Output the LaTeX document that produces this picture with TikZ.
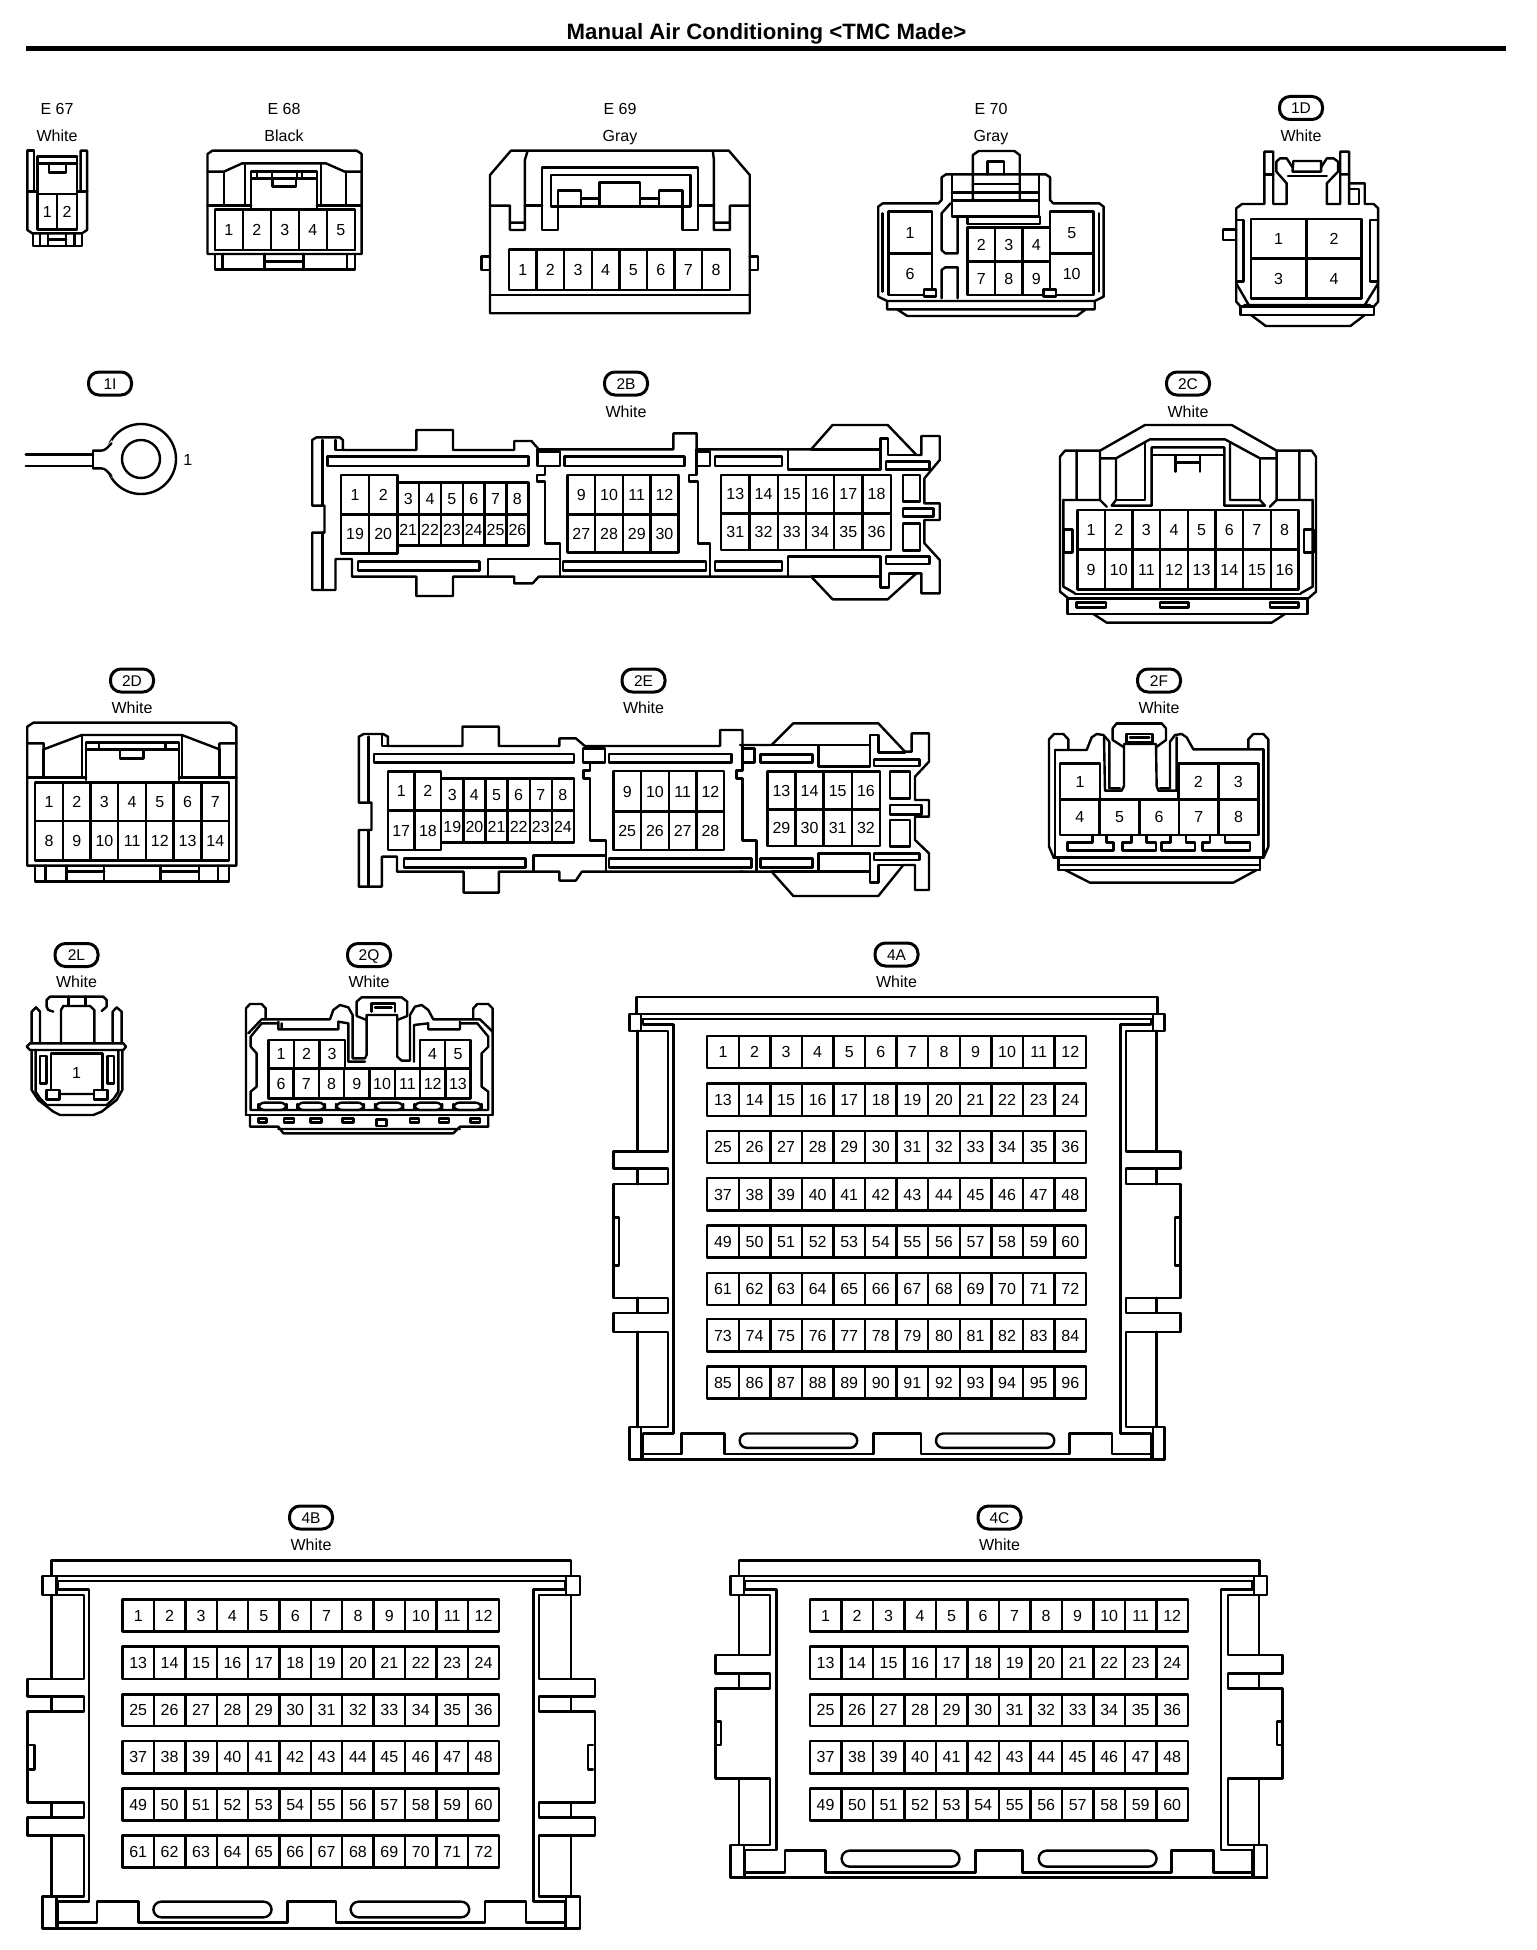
\documentclass[tikz,border=0pt]{standalone}
\usepackage{fontspec}
\setmainfont{Liberation Sans}
\tikzset{
  ln/.style={line width=2.4pt,line join=round,line cap=round,black},
  pin/.style={font=\fontsize{16}{17}\selectfont,inner sep=0pt,text height=11.5pt,text depth=0pt},
  lbl/.style={font=\fontsize{16}{17}\selectfont,inner sep=0pt,text height=11.5pt,text depth=0pt},
  pill/.style={draw,line width=3pt,rounded corners=10.5pt,minimum width=43pt,minimum height=23pt,inner sep=0pt,font=\fontsize{15.5}{16}\selectfont,text height=11pt,text depth=0pt},
  zm/.style n args={4}{shift={(#1,#2)},x=#3pt,y=-#4pt},
  slot/.style={ln,rounded corners=6pt},
}
\newcommand{\pincell}[6]{%
  \draw[ln] (#2,#3) rectangle (#4,#5);
  \path (#2,#3) -- node[pin] (#1) {#6} (#4,#5);
}
\newcommand{\pinrow}[7]{%
  \pgfmathsetmacro\mypw{(#4-#2)/(#7-#6+1)}
  \foreach \k in {#6,...,#7}{
    \pgfmathsetmacro\myxa{#2+(\k-#6)*\mypw}
    \pgfmathsetmacro\myxb{\myxa+\mypw}
    \draw[ln] (\myxa,#3) rectangle (\myxb,#5);
    \path (\myxa,#3) -- node[pin] (#1-\k) {\k} (\myxb,#5);
  }
}
\newcommand{\colorlabel}[4]{\node[lbl] (#1) at (#2,#3) {#4};}
\begin{document}
\begin{tikzpicture}[x=1pt,y=-1pt]
\useasboundingbox (0,0) rectangle (1536,1950);
\fill[white] (0,0) rectangle (1536,1950);
% Title
\node[font=\bfseries\fontsize{22.2}{24}\selectfont,inner sep=0pt] (title) at (766.5,33.5) {Manual Air Conditioning <TMC Made>};
\draw[line width=5pt] (26,48.5) -- (1506,48.5);
% Labels
\colorlabel{le67}{57}{109}{E 67}\colorlabel{we67}{57}{136}{White}
\colorlabel{le68}{284}{109}{E 68}\colorlabel{we68}{284}{136}{Black}
\colorlabel{le69}{620}{109}{E 69}\colorlabel{we69}{620}{136}{Gray}
\colorlabel{le70}{991}{109}{E 70}\colorlabel{we70}{991}{136}{Gray}
\node[pill] (p1D) at (1301,108) {1D};\colorlabel{w1D}{1301}{136}{White}
\node[pill] (p1I) at (110,383.5) {1I};
\node[pill] (p2B) at (626,383.5) {2B};\colorlabel{w2B}{626}{411.5}{White}
\node[pill] (p2C) at (1188,383.5) {2C};\colorlabel{w2C}{1188}{411.5}{White}
\node[pill] (p2D) at (132,680.5) {2D};\colorlabel{w2D}{132}{708}{White}
\node[pill] (p2E) at (643.5,680.5) {2E};\colorlabel{w2E}{643.5}{708}{White}
\node[pill] (p2F) at (1159,680.5) {2F};\colorlabel{w2F}{1159}{708}{White}
\node[pill] (p2L) at (76.5,955) {2L};\colorlabel{w2L}{76.5}{982}{White}
\node[pill] (p2Q) at (369,955) {2Q};\colorlabel{w2Q}{369}{982}{White}
\node[pill] (p4A) at (896.5,954.5) {4A};\colorlabel{w4A}{896.5}{982}{White}
\node[pill] (p4B) at (311,1517.5) {4B};\colorlabel{w4B}{311}{1545}{White}
\node[pill] (p4C) at (999.5,1517.5) {4C};\colorlabel{w4C}{999.5}{1545}{White}
% ---------- E67, E68, E69
\begin{scope}[zm={0}{0}{.4975}{.3333}]
 % E67
 \draw[ln] (55,452)--(55,690)--(65,700)--(165,700)--(175,690)--(175,452)--(162,452)--(162,575);
 \draw[ln] (55,452)--(68,452)--(68,575);
 \draw[ln] (75,470)--(155,470) (75,490)--(155,490) (75,470)--(75,580) (155,470)--(155,580);
 \draw[ln] (98,490)--(98,518)--(133,518)--(133,490);
 \draw[ln] (55,575)--(75,575) (155,575)--(175,575);
 \pinrow{e67}{75}{582}{155}{688}{1}{2}
 \draw[ln] (66,700)--(66,738)--(165,738)--(165,700);
 \draw[ln] (80,700)--(80,738) (97,700)--(97,738) (97,718)--(133,718) (133,700)--(133,738) (150,700)--(150,738);
 % E68
 \draw[ln] (417,762)--(417,462)--(427,452)--(717,452)--(727,462)--(727,762)--cycle;
 \draw[ln] (417,515)--(450,515)--(487,490)--(655,490)--(693,515)--(727,515);
 \draw[ln] (450,515)--(450,617) (493,490)--(493,617) (645,490)--(645,617) (695,515)--(695,617);
 \draw[ln] (417,617)--(505,617) (637,617)--(727,617);
 \draw[ln] (505,625)--(505,515)--(637,515)--(637,625) (505,535)--(637,535);
 \draw[ln] (517,515)--(517,535) (547,515)--(547,535) (597,515)--(597,535) (607,515)--(607,535);
 \draw[ln] (548,535)--(548,560)--(595,560)--(595,535);
 \draw[ln] (432,628) rectangle (713,750);
 \pinrow{e68}{432}{630}{713}{750}{1}{5}
 \draw[ln] (432,762)--(432,808)--(713,808)--(713,762);
 \draw[ln] (447,762)--(447,808) (532,762)--(532,808) (610,762)--(610,808) (532,785)--(610,785) (697,762)--(697,808);
 % E69
 \draw[ln] (985,940)--(985,525)--(1027,452)--(1465,452)--(1507,525)--(1507,940)--cycle;
 \draw[ln] (1060,455)--(1055,480)--(1055,690)--(1025,690)--(1025,617)--(985,617) (1025,668)--(1055,668);
 \draw[ln] (1433,455)--(1435,480)--(1435,690)--(1467,690)--(1467,617)--(1507,617) (1435,668)--(1467,668);
 \draw[ln] (1122,620)--(1122,690)--(1090,690)--(1090,502)--(1403,502)--(1403,690)--(1372,690)--(1372,620);
 \draw[ln] (1055,617)--(1090,617) (1403,617)--(1435,617);
 \draw[ln] (1107,620)--(1107,525)--(1388,525)--(1388,620)--cycle;
 \draw[ln] (1122,620)--(1122,572)--(1168,572)--(1168,620) (1168,595)--(1205,595);
 \draw[ln] (1205,620)--(1205,548)--(1287,548)--(1287,620) (1287,595)--(1325,595);
 \draw[ln] (1325,620)--(1325,572)--(1372,572)--(1372,620);
 \pinrow{e69}{1023}{748}{1467}{870}{1}{8}
 \draw[ln] (985,885)--(1507,885);
 \draw[ln] (985,770)--(968,770)--(968,810)--(985,810) (1507,770)--(1524,770)--(1524,810)--(1507,810);
\end{scope}
% ---------- E70, 1D
\begin{scope}[zm={780}{80}{.4464}{.3333}]
 \draw[ln] (240,663)--(220,650)--(220,380)--(230,370)--(355,370)--(362,360)--(362,292)--(372,283)--(595,283)--(605,292)--(605,360)--(612,370)--(715,370)--(725,380)--(725,650)--(705,663)--cycle;
 \draw[ln] (240,663)--(240,688)--(705,688)--(705,663) (262,688)--(285,708)--(665,708)--(685,688);
 \draw[ln] (432,360)--(432,225)--(445,213)--(525,213)--(537,225)--(537,360);
 \draw[ln] (465,283)--(465,245)--(502,245)--(502,283);
 \draw[ln] (432,312)--(537,312) (385,337)--(580,337);
 \draw[ln] (385,283)--(385,362) (580,283)--(580,362);
 \draw[ln] (385,362) rectangle (580,410);
 \draw[ln] (420,410)--(420,432)--(582,432)--(582,410);
 \draw[ln] (382,370)--(362,400)--(362,510)--(370,520)--(398,520)--(398,410);
 \draw[ln] (362,655)--(362,570)--(370,562)--(398,562)--(398,655);
 \pincell{e70-1}{243}{395}{340}{520}{1}
 \pincell{e70-6}{243}{520}{340}{645}{6}
 \pincell{e70-5}{605}{395}{702}{520}{5}
 \pincell{e70-10}{605}{520}{702}{645}{10}
 \pinrow{e70a}{420}{443}{605}{545}{2}{4}
 \pinrow{e70b}{420}{545}{605}{645}{7}{9}
 \draw[ln] (230,400)--(230,635) (715,400)--(715,635);
 \draw[ln,fill=white] (322,628) rectangle (350,650);
 \draw[ln,fill=white] (590,628) rectangle (618,650);
 % 1D
 \draw[ln] (1022,665)--(1022,385)--(1035,372)--(1085,372)--(1085,215)--(1105,215)--(1105,372)--(1135,372)--(1135,310)--(1112,275)--(1112,245)--(1120,235)--(1135,235)--(1148,262);
 \draw[ln] (1085,283)--(1105,283) (1138,288)--(1225,288);
 \draw[ln] (1148,275)--(1150,243)--(1212,243)--(1212,275) (1148,275)--(1212,275);
 \draw[ln] (1212,262)--(1225,235)--(1240,235)--(1250,245)--(1250,275)--(1225,310)--(1225,372)--(1255,372)--(1255,215)--(1275,215)--(1275,372);
 \draw[ln] (1255,283)--(1275,283) (1275,310)--(1310,310)--(1310,372)--(1330,372)--(1340,385)--(1340,665)--(1330,680);
 \draw[ln] (1275,327)--(1297,327)--(1297,372)--(1275,372);
 \draw[ln] (1022,665)--(1032,680);
 \pinrow{d1a}{1055}{417}{1303}{535}{1}{2}
 \pinrow{d1b}{1055}{535}{1303}{655}{3}{4}
 \draw[ln] (1022,448)--(993,448)--(993,480)--(1022,480);
 \draw[ln] (1022,420)--(1038,420)--(1038,605)--(1022,605);
 \draw[ln] (1340,420)--(1322,420)--(1322,605)--(1340,605);
 \draw[ln] (1022,610)--(1050,675) (1340,610)--(1310,675) (1040,675)--(1322,675);
 \draw[ln] (1032,680) rectangle (1330,705);
 \draw[ln] (1055,705)--(1088,738)--(1278,738)--(1310,705);
\end{scope}
% ---------- 1I
\draw[ln] (141,459) circle (35pt);
\fill[white] (100,452.5)--(112,440)--(112,478)--(100,465.5)--cycle;
\draw[ln] (141,459) circle (19pt);
\begin{scope}[zm={0}{360}{.6122}{.3333}]
 \draw[ln] (42,283)--(152,283) (42,318)--(152,318);
 \draw[ln] (152,272)--(152,325);
 \draw[ln] (152,272)--(165,272) .. controls (172,272) and (176,262) .. (182,250);
 \draw[ln] (152,325)--(165,325) .. controls (172,325) and (176,335) .. (182,348);
 \node[pin] (i1) at (307,298) {1};
 % 2B outline
 \draw[ln] (510,240)--(517,232)--(555,232)--(560,240)--(560,270)--(680,270)--(680,210)--(740,210)--(740,270)--(840,270)--(840,243)--(868,243)--(880,268)--(1100,268)--(1100,220)--(1138,220)--(1138,268)--(1325,268)--(1360,195)--(1450,195)--(1497,285)--(1505,285)--(1505,228)--(1535,228)--(1535,300)--(1510,355)--(1510,430)--(1535,430)--(1535,480)--(1510,480)--(1510,550)--(1535,600)--(1535,700)--(1505,700)--(1505,640)--(1497,640)--(1450,718)--(1360,718)--(1325,650)--(880,650)--(870,670)--(840,670)--(840,650)--(740,650)--(740,708)--(680,708)--(680,650)--(575,650)--(575,597)--(548,597)--(548,690)--(510,690)--(510,518)--(530,518)--(530,437)--(510,437)--cycle;
 \draw[ln] (527,240)--(527,437) (527,518)--(527,690) (548,240)--(548,270)--(560,270);
 \draw[ln] (1325,268)--(1438,268) (1325,650)--(1438,650);
 \draw[ln] (535,290) rectangle (863,318) (922,290) rectangle (1118,318) (1168,290) rectangle (1277,318);
 \draw[ln] (1287,268)--(1287,328)--(1438,328)--(1438,268) (1447,305) rectangle (1518,328);
 \draw[ln] (1438,268)--(1438,235)--(1450,235)--(1450,285)--(1497,285);
 \draw[ln] (585,605) rectangle (783,632) (920,605) rectangle (1153,632) (1168,605) rectangle (1277,632) (1447,590) rectangle (1518,612);
 \draw[ln] (1287,650)--(1287,590)--(1438,590)--(1438,650)--(1438,682)--(1452,682)--(1452,640)--(1497,640);
 \draw[ln] (797,650)--(797,597)--(915,597);
 \draw[ln] (878,268)--(878,318)--(915,318)--(915,275)--(878,275);
 \draw[ln] (890,318)--(890,345)--(877,345)--(877,365)--(890,365)--(890,550)--(915,550)--(915,650);
 \draw[ln] (1138,268)--(1138,345)--(1125,345)--(1125,365)--(1140,365)--(1140,550)--(1160,550)--(1160,650);
 \draw[ln] (1138,275)--(1160,275)--(1160,318)--(1138,318);
 \draw[ln] (1475,345) rectangle (1503,425) (1475,445) rectangle (1525,470) (1475,490) rectangle (1503,572);
 \pinrow{b2a}{557}{345}{649}{463}{1}{2}
 \pinrow{b2b}{649}{368}{863}{463}{3}{8}
 \pinrow{b2c}{927}{345}{1108}{463}{9}{12}
 \pinrow{b2d}{1178}{345}{1455}{460}{13}{18}
 \pinrow{b2e}{557}{463}{649}{580}{19}{20}
 \pinrow{b2f}{649}{463}{863}{557}{21}{26}
 \pinrow{b2g}{927}{463}{1108}{578}{27}{30}
 \pinrow{b2h}{1178}{460}{1455}{570}{31}{36}
\end{scope}
% ---------- 2C
\begin{scope}[zm={1030}{360}{.3333}{.3333}]
 \draw[ln] (90,695)--(90,290)--(105,272)--(210,272)--(345,195)--(605,195)--(740,272)--(845,272)--(858,290)--(858,695)--(835,715)--(115,715)--cycle;
 \draw[ln] (112,715) rectangle (832,762);
 \draw[ln] (190,762)--(230,788)--(725,788)--(765,762);
 \draw[ln] (210,272)--(210,420)--(230,440) (140,272)--(140,420) (100,420)--(210,420);
 \draw[ln] (100,420)--(100,680)--(135,700) (848,420)--(848,680)--(812,700);
 \draw[ln] (210,295)--(258,295)--(360,238)--(585,238)--(690,295)--(740,295);
 \draw[ln] (258,295)--(258,420)--(245,437)--(365,437)--(365,262)--(583,262)--(583,437)--(705,437)--(690,420)--(600,420)--(600,250);
 \draw[ln] (258,420)--(345,420)--(345,250) (365,285)--(583,285) (690,420)--(690,295);
 \draw[ln] (740,272)--(740,420)--(720,440) (808,272)--(808,420) (740,420)--(848,420);
 \draw[ln] (437,285)--(437,335) (510,285)--(510,335) (437,308)--(510,308);
 \pinrow{c2a}{142}{450}{805}{568}{1}{8}
 \pinrow{c2b}{142}{568}{805}{688}{9}{16}
 \draw[ln] (100,508) rectangle (127,578) (822,508) rectangle (850,578);
 \draw[ln] (135,702)--(812,702);
 \draw[ln] (140,727) rectangle (228,743) (390,727) rectangle (475,743) (720,727) rectangle (805,743);
\end{scope}
% ---------- 2D, 2E
\begin{scope}[zm={0}{660}{.6061}{.3333}]
 \draw[ln] (45,617)--(45,200)--(55,188)--(380,188)--(390,200)--(390,617)--cycle;
 \draw[ln] (45,250)--(72,250)--(72,268)--(135,225)--(300,225)--(362,268)--(362,250)--(390,250);
 \draw[ln] (72,268)--(72,352) (135,225)--(135,352) (300,225)--(300,352) (362,268)--(362,352) (45,352)--(142,352) (295,352)--(390,352);
 \draw[ln] (142,360)--(142,248)--(295,248)--(295,360) (142,268)--(295,268) (163,248)--(163,268) (273,248)--(273,268);
 \draw[ln] (198,268)--(198,295)--(237,295)--(237,268);
 \pinrow{d2a}{58}{368}{378}{483}{1}{7}
 \pinrow{d2b}{58}{483}{378}{602}{8}{14}
 \draw[ln] (58,617)--(58,665)--(378,665)--(378,617);
 \draw[ln] (75,617)--(75,665) (110,617)--(110,665) (172,617)--(172,665) (265,617)--(265,665) (328,617)--(328,665) (360,617)--(360,665) (110,635)--(172,635) (265,635)--(328,635);
 % 2E
 \draw[ln] (1225,258)--(1225,210)--(1188,210)--(1188,258)--(965,258)--(950,235)--(923,235)--(923,258)--(823,258)--(823,200)--(763,200)--(763,258)--(640,258)--(640,230)--(632,222)--(600,222)--(592,230)--(592,428)--(613,428)--(613,510)--(592,510)--(592,680)--(630,680)--(630,590)--(655,590)--(655,635)--(765,635)--(765,698)--(823,698)--(823,635)--(923,635)--(923,662)--(950,662)--(960,635)--(1225,635);
 \draw[ln] (608,230)--(608,428) (608,510)--(608,680) (630,225)--(630,258)--(640,258);
 \draw[ln] (617,282) rectangle (947,308) (1005,282) rectangle (1207,308);
 \draw[ln] (667,595) rectangle (867,622) (1005,595) rectangle (1240,622);
 \draw[ln] (880,635)--(880,587)--(998,587);
 \draw[ln] (962,265) rectangle (998,308);
 \draw[ln] (973,308)--(973,332)--(963,332)--(963,355)--(973,355)--(973,542)--(1000,542)--(1000,635);
 \draw[ln] (1225,258)--(1225,332)--(1215,332)--(1215,355)--(1225,355)--(1225,542)--(1248,542)--(1248,635);
 \draw[ln] (1225,265)--(1245,265)--(1245,308)--(1225,308);
 \pinrow{e2a}{640}{335}{728}{452}{1}{2}
 \pinrow{e2b}{728}{355}{947}{452}{3}{8}
 \pinrow{e2c}{1012}{333}{1195}{455}{9}{12}
 \pinrow{e2e}{640}{452}{728}{570}{17}{18}
 \pinrow{e2f}{728}{452}{947}{548}{19}{24}
 \pinrow{e2g}{1012}{455}{1195}{570}{25}{28}
\end{scope}
% 2E right end
\begin{scope}[zm={740}{710}{.3333}{.3333}]
 \draw[ln] (0,105)--(95,105)--(160,40)--(415,40)--(495,125)--(515,125)--(515,70)--(567,70)--(567,155)--(525,200)--(525,270)--(567,270)--(567,320)--(525,320)--(525,390)--(567,430)--(567,540)--(525,540)--(525,465)--(490,465)--(415,558)--(160,558)--(95,485)--(0,485);
 \draw[ln] (95,105)--(390,105)--(390,75)--(415,75)--(415,128)--(495,128);
 \draw[ln] (235,105)--(235,170)--(390,170)--(390,105);
 \draw[ln] (62,133) rectangle (218,158) (402,148) rectangle (538,168);
 \draw[ln] (95,485)--(390,485)--(390,517)--(415,517)--(415,465)--(490,465);
 \draw[ln] (235,485)--(235,430)--(390,430)--(390,485);
 \draw[ln] (402,430) rectangle (538,450) (62,445) rectangle (218,473);
 \draw[ln] (450,185) rectangle (510,265) (450,285) rectangle (545,313) (450,330) rectangle (510,410);
 \pinrow{e2d}{82}{185}{420}{298}{13}{16}
 \pinrow{e2h}{82}{298}{420}{408}{29}{32}
\end{scope}
% ---------- 2F
\begin{scope}[zm={1030}{660}{.3333}{.3333}]
 \draw[ln] (70,590)--(57,560)--(57,238)--(72,222)--(100,222)--(115,238)--(115,268);
 \draw[ln] (75,270)--(170,270)--(185,232)--(200,222)--(220,225)--(238,245)--(238,385)--(270,385);
 \draw[ln] (222,232)--(225,392)--(275,392)--(282,378)--(282,252)--(378,252)--(380,378)--(385,392)--(440,392)--(440,232);
 \draw[ln] (248,240)--(248,205)--(260,190)--(395,190)--(408,205)--(408,240)--(378,262) (248,240)--(282,262);
 \draw[ln] (260,191)--(395,191);
 \draw[ln] (290,247)--(290,222)--(368,222)--(368,247)--cycle (300,232)--(358,232);
 \pincell{f2-1}{90}{310}{210}{418}{1}
 \pinrow{f2a}{445}{310}{685}{418}{2}{3}
 \pinrow{f2b}{90}{418}{685}{525}{4}{8}
 \draw[ln] (490,268)--(470,232)--(455,222)--(435,225)--(420,245)--(420,385)--(390,385);
 \draw[ln] (490,268)--(700,268) (655,268)--(655,238)--(670,222)--(700,222)--(715,238)--(715,560)--(702,590);
 \draw[ln] (75,270)--(75,590) (700,268)--(700,590);
 \draw[ln] (70,592)--(702,592) (85,592)--(85,630) (690,592)--(690,630) (85,615)--(690,615) (85,630)--(690,630);
 \draw[ln] (105,630)--(180,668)--(610,668)--(680,630);
 \draw[ln] (188,525)--(188,548)--(112,548)--(112,572)--(250,572)--(250,548)--(230,548)--(230,525);
 \draw[ln] (305,525)--(305,548)--(278,548)--(278,572)--(378,572)--(378,548)--(350,548)--(350,525);
 \draw[ln] (422,525)--(422,548)--(395,548)--(395,572)--(495,572)--(495,548)--(468,548)--(468,525);
 \draw[ln] (540,525)--(540,548)--(518,548)--(518,572)--(660,572)--(660,548)--(585,548)--(585,525);
\end{scope}
% ---------- 2L, 2Q
\begin{scope}[zm={0}{930}{.3333}{.3333}]
 \draw[ln] (160,245)--(145,240)--(140,230)--(140,210)--(150,200)--(310,200)--(320,210)--(320,230)--(305,243);
 \draw[ln] (205,200)--(205,228) (257,200)--(257,228);
 \draw[ln] (183,340)--(183,240)--(190,228)--(270,228)--(283,240)--(283,340);
 \draw[ln] (95,340)--(95,245)--(108,232)--(120,245)--(120,335) (338,335)--(338,245)--(350,232)--(365,245)--(365,340);
 \draw[ln] (90,340)--(370,340)--(378,350)--(370,360)--(90,360)--(80,350)--cycle;
 \draw[ln] (95,360)--(95,480)--(115,510)--(160,545)--(180,555)--(280,555)--(305,545)--(350,510)--(367,480)--(367,360);
 \draw[ln] (107,360)--(107,485)--(120,505) (355,360)--(355,485)--(342,505);
 \draw[ln] (120,378) rectangle (140,460) (322,378) rectangle (342,460);
 \draw[ln] (153,480)--(153,370)--(307,370)--(307,480);
 \draw[ln] (140,480) rectangle (178,508) (282,480) rectangle (322,508);
 \draw[ln] (178,492)--(282,492) (120,505)--(140,525)--(320,525)--(342,505);
 \node[pin] (l2-1) at (230,428) {1};
 % 2Q
 \draw[ln] (738,555)--(738,235)--(750,222)--(785,222)--(797,235)--(797,268);
 \draw[ln] (745,310)--(785,268)--(990,268)--(1000,240)--(1020,225)--(1045,232)--(1058,255)--(1058,385)--(1095,385)--(1100,375)--(1100,255)--(1192,255)--(1192,380)--(1205,392)--(1230,392)--(1230,255)--(1245,230)--(1265,225)--(1285,240)--(1300,268)--(1440,268)--(1478,305);
 \draw[ln] (752,350)--(752,320)--(785,280)--(835,280) (835,275)--(835,298)--(1015,298)--(1015,275) (845,280)--(845,298);
 \draw[ln] (1015,275)--(1045,280)--(1045,395)--(1095,395);
 \draw[ln] (1242,395)--(1242,285)--(1285,280)--(1285,298)--(1380,298)--(1380,275) (1380,280)--(1432,280)--(1465,320)--(1465,350);
 \draw[ln] (1070,258)--(1070,215)--(1085,202)--(1205,202)--(1222,215)--(1222,258) (1070,258)--(1100,270) (1222,258)--(1192,270);
 \draw[ln] (1420,268)--(1420,235)--(1432,222)--(1465,222)--(1478,235)--(1478,555);
 \draw[ln] (1115,245)--(1115,220)--(1185,220)--(1185,245) (1125,232)--(1175,232);
 \draw[ln] (752,350)--(770,370)--(770,470)--(752,485)--(752,540)--(1465,540)--(1465,485)--(1445,470)--(1445,370)--(1465,350);
 \pinrow{q2a}{805}{330}{1035}{415}{1}{3}
 \pinrow{q2b}{1260}{330}{1412}{415}{4}{5}
 \pinrow{q2c}{805}{415}{1412}{505}{6}{13}
 \draw[slot] (775,518) rectangle (860,540) (892,518) rectangle (975,540) (1008,518) rectangle (1092,540) (1125,518) rectangle (1210,540) (1243,518) rectangle (1327,540) (1360,518) rectangle (1445,540);
 \draw[ln] (738,555)--(1478,555);
 \draw[ln] (750,555)--(750,590)--(835,590)--(850,610)--(1360,610)--(1380,590)--(1465,590)--(1465,555) (835,597)--(1380,597);
 \draw[ln] (775,565) rectangle (800,578) (852,565) rectangle (882,578) (932,565) rectangle (965,578) (1028,565) rectangle (1060,578) (1130,568) rectangle (1160,588) (1230,565) rectangle (1258,578) (1318,565) rectangle (1348,578) (1412,565) rectangle (1440,578);
\end{scope}
% ---------- 4A
\newcommand{\halfA}{%
 \draw[ln] (77,235) rectangle (107,282) (77,1392) rectangle (107,1483);
 \draw[ln] (112,250)--(112,265)--(192,265)--(192,1410)--(112,1410)--(112,1483);
 \draw[ln] (98,282)--(178,282)--(178,620)--(35,620)--(35,668)--(178,668)--(178,712)--(35,712)--(35,1030)--(178,1030)--(178,1072)--(35,1072)--(35,1125)--(178,1125)--(178,1392)--(98,1392);
 \draw[ln] (98,282)--(98,620) (98,668)--(98,712) (98,1030)--(98,1072) (98,1125)--(98,1392);
 \draw[ln] (38,805)--(50,805)--(50,940)--(38,940);
}
\begin{scope}[zm={600}{930}{.3827}{.3571}]
 \draw[ln] (95,235)--(95,188)--(1457,188)--(1457,235)--cycle (110,250)--(1442,250);
 \halfA
 \begin{scope}[shift={(1552,0)},x=-.3827pt] \halfA \end{scope}
 \draw[ln] (77,1483)--(1475,1483);
 \draw[ln] (112,1467)--(213,1467)--(213,1410)--(325,1410)--(325,1467)--(715,1467)--(715,1410)--(838,1410)--(838,1467)--(1227,1467)--(1227,1410)--(1338,1410)--(1338,1467)--(1440,1467);
 \draw[ln,rounded corners=7pt] (365,1410) rectangle (672,1450) (878,1410) rectangle (1187,1450);
 \pinrow{a4a}{280}{297}{1270}{387}{1}{12}
 \pinrow{a4b}{280}{430}{1270}{520}{13}{24}
 \pinrow{a4c}{280}{563}{1270}{652}{25}{36}
 \pinrow{a4d}{280}{695}{1270}{785}{37}{48}
 \pinrow{a4e}{280}{827}{1270}{917}{49}{60}
 \pinrow{a4f}{280}{960}{1270}{1050}{61}{72}
 \pinrow{a4g}{280}{1090}{1270}{1180}{73}{84}
 \pinrow{a4h}{280}{1222}{1270}{1312}{85}{96}
\end{scope}
% ---------- 4B
\newcommand{\halfB}{%
 \draw[ln] (108,228) rectangle (143,285) (108,1190) rectangle (143,1285);
 \draw[ln] (145,243)--(145,268)--(225,268)--(225,1205)--(145,1205)--(145,1285);
 \draw[ln] (130,285)--(212,285)--(212,537)--(70,537)--(70,590)--(212,590)--(212,635)--(70,635)--(70,907)--(212,907)--(212,952)--(70,952)--(70,1007)--(212,1007)--(212,1190)--(130,1190);
 \draw[ln] (130,285)--(130,537) (130,590)--(130,635) (130,907)--(130,952) (130,1007)--(130,1190);
 \draw[ln] (75,735)--(87,735)--(87,808)--(75,808);
}
\begin{scope}[zm={0}{1500}{.3953}{.3333}]
 \draw[ln] (130,228)--(130,182)--(1445,182)--(1445,228)--cycle (145,243)--(1430,243);
 \halfB
 \begin{scope}[shift={(1575,0)},x=-.3953pt] \halfB \end{scope}
 \draw[ln] (108,1285)--(1467,1285);
 \draw[ln] (145,1268)--(245,1268)--(245,1205)--(350,1205)--(350,1268)--(727,1268)--(727,1205)--(850,1205)--(850,1268)--(1227,1268)--(1227,1205)--(1330,1205)--(1330,1268)--(1430,1268);
 \draw[ln,rounded corners=8pt] (388,1205) rectangle (687,1252) (887,1205) rectangle (1187,1252);
 \pinrow{b4a}{310}{298}{1263}{395}{1}{12}
 \pinrow{b4b}{310}{440}{1263}{537}{13}{24}
 \pinrow{b4c}{310}{583}{1263}{678}{25}{36}
 \pinrow{b4d}{310}{723}{1263}{820}{37}{48}
 \pinrow{b4e}{310}{865}{1263}{962}{49}{60}
 \pinrow{b4f}{310}{1007}{1263}{1103}{61}{72}
\end{scope}
% ---------- 4C
\newcommand{\halfC}{%
 \draw[ln] (80,228) rectangle (115,285) (80,1035) rectangle (115,1132);
 \draw[ln] (118,243)--(118,268)--(200,268)--(200,1050)--(118,1050)--(118,1132);
 \draw[ln] (102,285)--(183,285)--(183,465)--(40,465)--(40,520)--(183,520)--(183,565)--(40,565)--(40,835)--(183,835)--(183,1035)--(102,1035);
 \draw[ln] (102,285)--(102,465) (102,520)--(102,565) (102,835)--(102,1035);
 \draw[ln] (43,665)--(55,665)--(55,735)--(43,735);
}
\begin{scope}[zm={700}{1500}{.3827}{.3333}]
 \draw[ln] (102,228)--(102,182)--(1462,182)--(1462,228)--cycle (118,243)--(1445,243);
 \halfC
 \begin{scope}[shift={(1562,0)},x=-.3827pt] \halfC \end{scope}
 \draw[ln] (80,1132)--(1482,1132);
 \draw[ln] (118,1117)--(222,1117)--(222,1052)--(328,1052)--(328,1117)--(720,1117)--(720,1052)--(843,1052)--(843,1117)--(1232,1117)--(1232,1052)--(1342,1052)--(1342,1117)--(1445,1117);
 \draw[ln,rounded corners=8pt] (370,1052) rectangle (678,1100) (885,1052) rectangle (1193,1100);
 \pinrow{c4a}{287}{298}{1275}{395}{1}{12}
 \pinrow{c4b}{287}{440}{1275}{537}{13}{24}
 \pinrow{c4c}{287}{583}{1275}{678}{25}{36}
 \pinrow{c4d}{287}{723}{1275}{820}{37}{48}
 \pinrow{c4e}{287}{865}{1275}{962}{49}{60}
\end{scope}
\end{tikzpicture}
\end{document}
